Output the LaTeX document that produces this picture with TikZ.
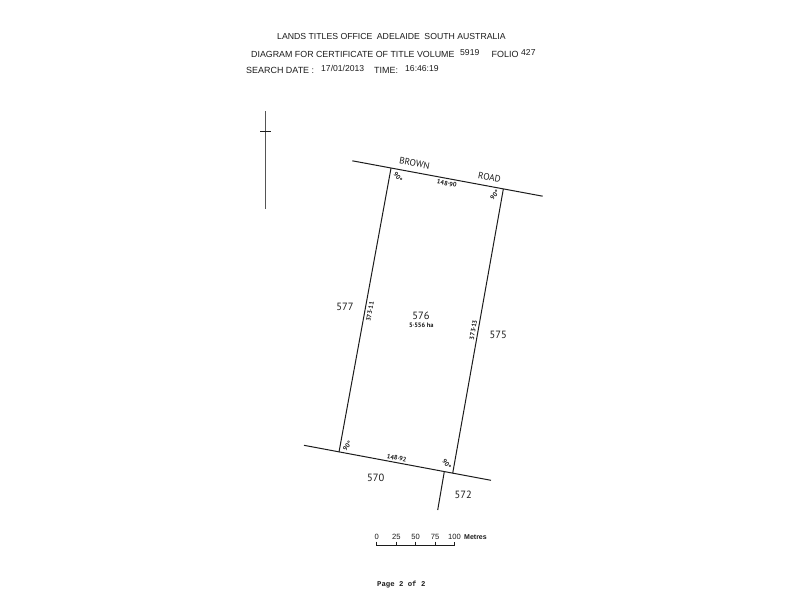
\documentclass[tikz,border=0pt]{standalone}
\usepackage{fontspec}
\setmainfont{Liberation Sans}
\setmonofont{Liberation Mono}
\newfontfamily\planfont{PT Sans}
\definecolor{ink}{HTML}{1C1C1C}
\tikzset{
  boundary/.style={draw=ink,line width=1pt},
  thinrule/.style={draw=ink,line width=0.7pt},
  head/.style={inner sep=0pt,anchor=west,text=ink,font=\fontsize{8.95}{10}\selectfont},
  headval/.style={inner sep=0pt,anchor=west,text=ink,font=\fontsize{8.6}{10}\selectfont},
  parcel/.style={inner sep=0pt,text=ink,font=\planfont\fontsize{10.5}{11}\selectfont},
  road/.style={inner sep=0pt,text=ink,rotate=-10.6,font=\planfont\fontsize{9.3}{10}\selectfont},
  dim/.style={inner sep=0pt,text=ink,font=\planfont\bfseries\fontsize{6.4}{8}\selectfont},
  scalelab/.style={inner sep=0pt,text=ink,font=\fontsize{7.6}{9}\selectfont},
  pagelab/.style={inner sep=0pt,anchor=west,text=ink,font=\ttfamily\bfseries\fontsize{7.3}{9}\selectfont},
}
\begin{document}
\begin{tikzpicture}[x=1pt,y=-1pt]
\useasboundingbox[fill=white] (0,0) rectangle (800,600);
% header
\node[head,font=\fontsize{8.7}{10}\selectfont] (h1) at (277,37) {LANDS TITLES OFFICE\hspace{4.5pt}ADELAIDE\hspace{4.5pt}SOUTH AUSTRALIA};
\node[head,font=\fontsize{8.85}{10}\selectfont] (h2) at (251,54.5) {DIAGRAM FOR CERTIFICATE OF TITLE VOLUME};
\node[headval] (v1) at (460,53) {5919};
\node[head] (h3) at (491.5,54.5) {FOLIO};
\node[headval] (v2) at (521,52.5) {427};
\node[head] (h4) at (246,70.5) {SEARCH DATE :};
\node[headval] (v3) at (321,68.5) {17/01/2013};
\node[head] (h5) at (374,70.5) {TIME:};
\node[headval] (v4) at (405,68.5) {16:46:19};
% north point
\coordinate (nt) at (265.3,111);
\coordinate (nb) at (265.3,209);
\coordinate (cl) at (260,131.5);
\coordinate (cr) at (270.5,131.5);
\draw[draw=ink!75,line width=1.3pt] (nt) -- (nb);
\draw[thinrule] (cl) -- (cr);
% plan
\coordinate (ra) at (352.3,160.8);
\coordinate (rb) at (542.7,196.2);
\coordinate (tl) at (391,168.2);
\coordinate (tr) at (503.3,189.2);
\coordinate (ba) at (304,445.3);
\coordinate (bb) at (491,480.3);
\coordinate (bl) at (339,452);
\coordinate (br) at (452.7,473.2);
\coordinate (sa) at (444.3,471.6);
\coordinate (sb) at (437.7,510);
\draw[boundary] (ra) -- (rb);
\draw[boundary] (ba) -- (bb);
\draw[boundary] (tl) -- (bl);
\draw[boundary] (tr) -- (br);
\draw[boundary] (sa) -- (sb);
% labels
\node[road] (brown) at (414.5,163.5) {BROWN};
\node[road] (roadl) at (489.5,177.5) {ROAD};
\node[dim,rotate=-10.6] (d1) at (446.8,183.5) {148·90};
\node[dim,rotate=-10.6] (d2) at (396.7,458) {148·92};
\node[dim,rotate=-50] (a1) at (398,177) {90°};
\node[dim,rotate=50] (a2) at (494.7,195) {90°};
\node[dim,rotate=50] (a3) at (347.3,446) {90°};
\node[dim,rotate=-50] (a4) at (446.7,464) {90°};
\node[dim,rotate=80] (d3) at (370,311.7) {373·11};
\node[dim,rotate=80] (d4) at (473.3,330) {373·13};
\node[parcel] (p577) at (345,306.7) {577};
\node[parcel] (p576) at (421,316.3) {576};
\node[dim] (area) at (421.3,325.2) {5·556 ha};
\node[parcel] (p575) at (498.3,334.5) {575};
\node[parcel] (p570) at (375.7,478.3) {570};
\node[parcel] (p572) at (463.3,494.7) {572};
% scale
\coordinate (s0) at (376.8,541.5);
\coordinate (s1) at (396.3,541.5);
\coordinate (s2) at (415.7,541.5);
\coordinate (s3) at (435.2,541.5);
\coordinate (s4) at (454.5,541.5);
\coordinate (b0) at (376.8,545.8);
\coordinate (b1) at (396.3,545.8);
\coordinate (b2) at (415.7,545.8);
\coordinate (b3) at (435.2,545.8);
\coordinate (b4) at (454.5,545.8);
\draw[thinrule] (s0) -- (b0) -- (b4) -- (s4);
\draw[thinrule] (s1) -- (b1);
\draw[thinrule] (s2) -- (b2);
\draw[thinrule] (s3) -- (b3);
\node[scalelab] (l0) at (376.8,537) {0};
\node[scalelab] (l1) at (396.3,537) {25};
\node[scalelab] (l2) at (415.7,537) {50};
\node[scalelab] (l3) at (435.2,537) {75};
\node[scalelab] (l4) at (454.5,537) {100};
\node[scalelab,anchor=west,font=\fontsize{7}{8}\bfseries\selectfont] (metres) at (464,537) {Metres};
\node[pagelab] (page) at (377,585) {Page 2 of 2};
\end{tikzpicture}
\end{document}
